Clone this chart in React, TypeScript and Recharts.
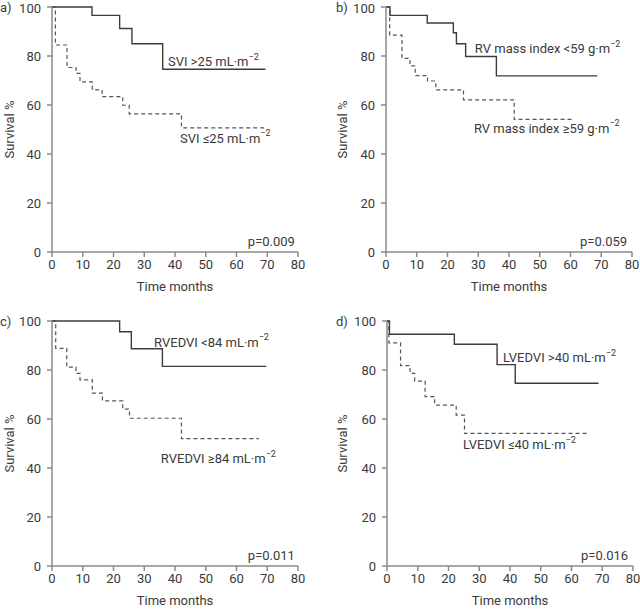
import { Line, LineChart, ReferenceDot, XAxis, YAxis } from "recharts";

// Kaplan-Meier steps (time in months, survival in %)
const SVI_HIGH_T = [0, 13, 22, 26, 36, 69.4];
const SVI_HIGH_S = [100, 96.6, 91.2, 85.0, 74.6, 74.6];
const SVI_LOW_T = [0, 1.1, 4.9, 7.8, 9.1, 13.1, 16.3, 23, 25.1, 42.1, 69.2];
const SVI_LOW_S = [100, 84.5, 75.3, 72.9, 69.4, 66.2, 63.4, 59.9, 56.4, 50.7, 50.7];

const RVM_LOW_T = [0, 1.3, 13.4, 21.9, 22.9, 25.9, 35.9, 68.7];
const RVM_LOW_S = [100, 96.6, 93.5, 89.5, 85.0, 79.8, 71.9, 71.9];
const RVM_HIGH_T = [0, 1.2, 5.2, 7.8, 9.5, 13.5, 16.2, 25.2, 41.7, 61.1];
const RVM_HIGH_S = [100, 88.5, 79.0, 76.0, 72.0, 69.8, 66.2, 62.1, 54.1, 54.1];

const RVEDVI_LOW_T = [0, 22, 25.8, 35.9, 69.7];
const RVEDVI_LOW_S = [100, 95.6, 88.7, 81.5, 81.5];
const RVEDVI_HIGH_T = [0, 1.2, 4.8, 7.8, 9.1, 13.1, 16.4, 23, 25.2, 42.1, 67.3];
const RVEDVI_HIGH_S = [100, 88.8, 81.2, 78.6, 76.0, 70.6, 67.4, 64.0, 60.3, 52.0, 52.0];

const LVEDVI_HIGH_T = [0, 0.8, 21.9, 35.8, 41.7, 68.8];
const LVEDVI_HIGH_S = [100, 94.6, 90.5, 82.2, 74.6, 74.6];
const LVEDVI_LOW_T = [0, 0.6, 4.4, 7.5, 9.0, 12.4, 15.5, 22.5, 25.2, 65.6];
const LVEDVI_LOW_S = [100, 91.1, 81.8, 78.6, 75.5, 69.1, 65.7, 61.6, 54.1, 54.1];

const MONTH_TICKS = [0, 10, 20, 30, 40, 50, 60, 70, 80];
const SURVIVAL_TICKS = [0, 20, 40, 60, 80, 100];

const FONT = "Roboto, 'DejaVu Sans', sans-serif";
const TEXT = "#3a3a3a";
const AXIS = "#8a8a8a";
const FS = 13;

type Note = { x: number; y: number; text: string; sup?: string; anchor?: "start" | "end" };

const toRows = (t: number[], s: number[]) => t.map((v, i) => ({ t: v, s: s[i] }));

function NoteLabel({ viewBox, note }: { viewBox?: any; note: Note }) {
  if (!viewBox) return null;
  return (
    <text
      x={viewBox.x}
      y={viewBox.y}
      dominantBaseline="central"
      textAnchor={note.anchor ?? "start"}
      fill={TEXT}
      fontSize={FS}
      fontFamily={FONT}
    >
      {note.text}
      {note.sup && (
        <tspan dy={-5} fontSize={9}>
          {note.sup}
        </tspan>
      )}
    </text>
  );
}

function Panel({
  letter,
  left,
  top,
  height,
  yWidth,
  right,
  margTop,
  yLabelX,
  solid,
  dashed,
  notes,
}: {
  letter: string;
  left: number;
  top: number;
  height: number;
  yWidth: number;
  right: number;
  margTop: number;
  yLabelX: number;
  solid: { t: number; s: number }[];
  dashed: { t: number; s: number }[];
  notes: Note[];
}) {
  const plotH = 245;
  const xh = height - margTop - plotH;
  return (
    <div style={{ position: "absolute", left, top, width: 320, height }}>
      <LineChart
        width={320}
        height={height}
        margin={{ top: margTop, right, bottom: 0, left: 0 }}
        style={{ fontFamily: FONT }}
      >
        <XAxis
          type="number"
          dataKey="t"
          domain={[0, 80]}
          ticks={MONTH_TICKS}
          height={xh}
          stroke={AXIS}
          strokeWidth={1.5}
          tickSize={5}
          tickMargin={3}
          tick={{ fill: TEXT, fontSize: FS }}
          allowDataOverflow
          label={{
            content: ({ viewBox }: any) => (
              <text
                x={viewBox.x + viewBox.width / 2}
                y={viewBox.y + 39}
                textAnchor="middle"
                fill={TEXT}
                fontSize={FS}
                fontFamily={FONT}
              >
                Time months
              </text>
            ),
          }}
        />
        <YAxis
          type="number"
          domain={[0, 100]}
          ticks={SURVIVAL_TICKS}
          width={yWidth}
          stroke={AXIS}
          strokeWidth={1.5}
          tickSize={5}
          tickMargin={6}
          tick={{ fill: TEXT, fontSize: FS }}
          label={{
            content: ({ viewBox }: any) => {
              const cx = viewBox.x + yLabelX;
              const cy = viewBox.y + viewBox.height / 2;
              return (
                <text
                  x={cx}
                  y={cy}
                  transform={`rotate(-90 ${cx} ${cy})`}
                  textAnchor="middle"
                  dominantBaseline="central"
                  fill={TEXT}
                  fontSize={FS}
                  fontFamily={FONT}
                >
                  Survival %
                </text>
              );
            },
          }}
        />
        <Line
          data={dashed}
          dataKey="s"
          type="stepAfter"
          stroke="#555"
          strokeWidth={1.2}
          strokeDasharray="4 3"
          dot={false}
          activeDot={false}
          isAnimationActive={false}
        />
        <Line
          data={solid}
          dataKey="s"
          type="stepAfter"
          stroke="#3c3c3c"
          strokeWidth={1.4}
          dot={false}
          activeDot={false}
          isAnimationActive={false}
        />
        {notes.map((n, i) => (
          <ReferenceDot
            key={i}
            x={n.x}
            y={n.y}
            r={0}
            stroke="none"
            fill="none"
            label={{ content: (p: any) => <NoteLabel viewBox={p.viewBox} note={n} /> }}
          />
        ))}
      </LineChart>
      <div
        style={{
          position: "absolute",
          left: letter === "a)" || letter === "c)" ? 0 : 16,
          top: margTop - 7,
          fontFamily: FONT,
          fontSize: FS,
          color: TEXT,
          lineHeight: "16px",
        }}
      >
        {letter}
      </div>
    </div>
  );
}

export default function App() {
  return (
    <div
      style={{
        position: "absolute",
        left: 0,
        top: 0,
        width: 640,
        height: 609,
        background: "#fff",
      }}
    >
      <Panel
        letter="a)"
        left={0}
        top={0}
        height={300}
        yWidth={52}
        right={22}
        margTop={7}
        yLabelX={9}
        solid={toRows(SVI_HIGH_T, SVI_HIGH_S)}
        dashed={toRows(SVI_LOW_T, SVI_LOW_S)}
        notes={[
          { x: 37.7, y: 77.6, text: "SVI >25 mL·m", sup: "−2" },
          { x: 41.6, y: 46.5, text: "SVI ≤25 mL·m", sup: "−2" },
          { x: 79, y: 4.1, text: "p=0.009", anchor: "end" },
        ]}
      />
      <Panel
        letter="b)"
        left={320}
        top={0}
        height={300}
        yWidth={66}
        right={8}
        margTop={7}
        yLabelX={22}
        solid={toRows(RVM_LOW_T, RVM_LOW_S)}
        dashed={toRows(RVM_HIGH_T, RVM_HIGH_S)}
        notes={[
          { x: 28.9, y: 82.9, text: "RV mass index <59 g·m", sup: "−2" },
          { x: 28.6, y: 50.6, text: "RV mass index ≥59 g·m", sup: "−2" },
          { x: 78.4, y: 4.1, text: "p=0.059", anchor: "end" },
        ]}
      />
      <Panel
        letter="c)"
        left={0}
        top={300}
        height={309}
        yWidth={52}
        right={22}
        margTop={21}
        yLabelX={9}
        solid={toRows(RVEDVI_LOW_T, RVEDVI_LOW_S)}
        dashed={toRows(RVEDVI_HIGH_T, RVEDVI_HIGH_S)}
        notes={[
          { x: 33.2, y: 91.4, text: "RVEDVI <84 mL·m", sup: "−2" },
          { x: 35.4, y: 43.7, text: "RVEDVI ≥84 mL·m", sup: "−2" },
          { x: 79, y: 4.1, text: "p=0.011", anchor: "end" },
        ]}
      />
      <Panel
        letter="d)"
        left={320}
        top={300}
        height={309}
        yWidth={67}
        right={7}
        margTop={21}
        yLabelX={22}
        solid={toRows(LVEDVI_HIGH_T, LVEDVI_HIGH_S)}
        dashed={toRows(LVEDVI_LOW_T, LVEDVI_LOW_S)}
        notes={[
          { x: 37.7, y: 84.9, text: "LVEDVI >40 mL·m", sup: "−2" },
          { x: 24.7, y: 49.4, text: "LVEDVI ≤40 mL·m", sup: "−2" },
          { x: 78.4, y: 4.1, text: "p=0.016", anchor: "end" },
        ]}
      />
    </div>
  );
}
